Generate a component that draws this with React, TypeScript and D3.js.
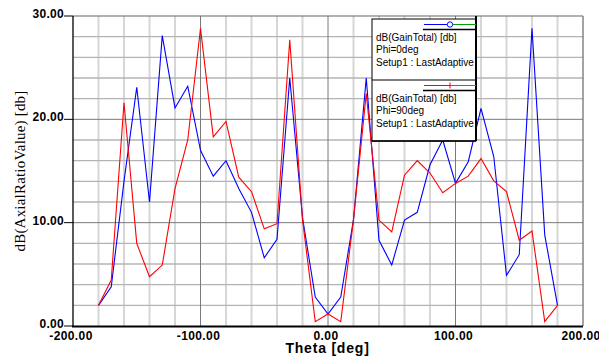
import React from 'react';
import * as d3 from 'd3';

const thetaDeg = [-180, -170, -160, -150, -140, -130, -120, -110, -100, -90, -80, -70, -60, -50, -40, -30, -20, -10, 0, 10, 20, 30, 40, 50, 60, 70, 80, 90, 100, 110, 120, 130, 140, 150, 160, 170, 180];
const phi0Values = [2.0, 3.8, 14.0, 23.1, 12.0, 28.1, 21.1, 23.2, 17.0, 14.5, 16.0, 13.3, 11.0, 6.6, 8.4, 24.0, 10.5, 2.8, 1.16, 2.8, 10.3, 24.0, 8.3, 5.9, 10.25, 11.0, 15.6, 18.0, 13.8, 15.9, 21.05, 16.4, 4.9, 6.9, 28.8, 8.8, 2.0];
const phi90Values = [2.0, 4.45, 21.6, 8.0, 4.77, 5.9, 13.3, 18.0, 28.8, 18.3, 19.8, 14.4, 13.0, 9.4, 9.9, 27.7, 10.3, 0.42, 1.16, 0.42, 10.3, 22.5, 10.25, 9.1, 14.6, 16.0, 14.8, 12.9, 13.8, 14.5, 16.2, 14.05, 13.0, 8.3, 9.2, 0.42, 2.0];
const xTickValues = [-200, -100, 0, 100, 200];
const yTickValues = [0, 10, 20, 30];
const legendEntries = [
  { lines: ['dB(GainTotal) [db]', 'Phi=0deg', 'Setup1 : LastAdaptive'], color: '#0000ff', tail: '#00a000', marker: 'circle' },
  { lines: ['dB(GainTotal) [db]', 'Phi=90deg', 'Setup1 : LastAdaptive'], color: '#ff0000', tail: '#a040c0', marker: 'tick' },
];

const W = 599, H = 359;
const L = 73, R = 583, T = 16, B = 326;

export default function App() {
  const x = d3.scaleLinear().domain([-200, 200]).range([L, R]);
  const y = d3.scaleLinear().domain([0, 30]).range([B, T]);
  const xGrid = x.ticks(20);
  const yGrid = y.ticks(15);
  const line = d3.line<[number, number]>().x(d => x(d[0])).y(d => y(d[1]));
  const s0 = thetaDeg.map((t, i) => [t, phi0Values[i]] as [number, number]);
  const s90 = thetaDeg.map((t, i) => [t, phi90Values[i]] as [number, number]);
  const isMajorX = (v: number) => v % 100 === 0;
  const isMajorY = (v: number) => v % 10 === 0;

  const lgX = 372, lgY = 19, lgW = 104, lgRowH = 61;

  return (
    <svg width={W} height={H} style={{ position: 'absolute', left: 0, top: 0, background: '#fff' }}>
      <rect x={0} y={0} width={W} height={H} fill="#fff" />
      {xGrid.filter(v => !isMajorX(v)).map(v => (
        <line key={'vx' + v} x1={x(v)} x2={x(v)} y1={T} y2={B} stroke="#d6d6d6" strokeWidth={2} />
      ))}
      {yGrid.filter(v => !isMajorY(v)).map(v => (
        <line key={'hy' + v} x1={L} x2={R} y1={y(v)} y2={y(v)} stroke="#b4b4b4" strokeWidth={1.3} />
      ))}
      {xGrid.filter(v => isMajorX(v) && v > -200 && v < 200).map(v => (
        <line key={'mx' + v} x1={x(v)} x2={x(v)} y1={T} y2={B} stroke="#7a7a7a" strokeWidth={1} />
      ))}
      {yGrid.filter(v => isMajorY(v) && v > 0 && v < 30).map(v => (
        <line key={'my' + v} x1={L} x2={R} y1={y(v)} y2={y(v)} stroke="#7a7a7a" strokeWidth={1} />
      ))}
      <line x1={L} x2={R} y1={T} y2={T} stroke="#666" strokeWidth={1.2} />
      <line x1={R} x2={R} y1={T} y2={B} stroke="#666" strokeWidth={1.2} />
      <line x1={L} x2={L} y1={T} y2={B} stroke="#000" strokeWidth={1.3} />
      <line x1={L - 1} x2={R} y1={B + 0.5} y2={B + 0.5} stroke="#000" strokeWidth={2} />
      <path d={line(s0) || ''} fill="none" stroke="#0000ff" strokeWidth={1.1} />
      <path d={line(s90) || ''} fill="none" stroke="#ff0000" strokeWidth={1.1} />
      {yTickValues.map(v => (
        <g key={'yt' + v}>
          <line x1={64} x2={L} y1={y(v)} y2={y(v)} stroke="#000" strokeWidth={1} />
          <text x={64} y={y(v) + 2} textAnchor="end" fontFamily="'Liberation Sans', Arial, sans-serif" fontWeight="bold" fontSize={12} letterSpacing={0.3} fill="#000">{v.toFixed(2)}</text>
        </g>
      ))}
      {xTickValues.map(v => (
        <text key={'xt' + v} x={x(v) - 2} y={339.5} textAnchor="middle" fontFamily="'Liberation Sans', Arial, sans-serif" fontWeight="bold" fontSize={12} letterSpacing={0.4} fill="#000">{v.toFixed(2)}</text>
      ))}
      <text x={327.5} y={353} textAnchor="middle" fontFamily="'Liberation Sans', Arial, sans-serif" fontWeight="bold" fontSize={14} letterSpacing={0.8} fill="#000">Theta [deg]</text>
      <text transform="translate(25,171) rotate(-90)" textAnchor="middle" fontFamily="'Liberation Serif', 'Times New Roman', serif" fontSize={15} letterSpacing={0.2} fill="#000">dB(AxialRatioValue) [db]</text>
      <g>
        <rect x={lgX} y={lgY} width={lgW} height={lgRowH * 2} fill="#fff" stroke="#000" strokeWidth={1} />
        <line x1={lgX} x2={lgX + lgW} y1={lgY + lgRowH} y2={lgY + lgRowH} stroke="#000" strokeWidth={1} />
        <line x1={lgX + lgW} x2={lgX + lgW} y1={T} y2={lgY + lgRowH * 2} stroke="#000" strokeWidth={2} />
        <line x1={lgX} x2={lgX + lgW} y1={lgY + lgRowH * 2} y2={lgY + lgRowH * 2} stroke="#000" strokeWidth={1.5} />
        {legendEntries.map((e, i) => {
          const top = lgY + i * lgRowH;
          return (
            <g key={'lg' + i}>
              <line x1={424} x2={450} y1={top + 5.5} y2={top + 5.5} stroke={e.color} strokeWidth={1} />
              <line x1={450} x2={lgX + lgW} y1={top + 5.5} y2={top + 5.5} stroke={e.tail} strokeWidth={1} />
              {e.marker === 'circle'
                ? <circle cx={450} cy={top + 5.5} r={2.7} fill="#fff" stroke={e.color} strokeWidth={1} />
                : <line x1={450} x2={450} y1={top + 2.5} y2={top + 8.5} stroke={e.color} strokeWidth={1} />}
              <line x1={423} x2={lgX + lgW} y1={top + 10.5} y2={top + 10.5} stroke="#000" strokeWidth={1.5} />
              {e.lines.map((t, j) => (
                <text key={j} x={376} y={top + 22 + j * 12.3} fontFamily="'Liberation Sans', Arial, sans-serif" fontSize={10} fill="#000">{t}</text>
              ))}
            </g>
          );
        })}
      </g>
    </svg>
  );
}
